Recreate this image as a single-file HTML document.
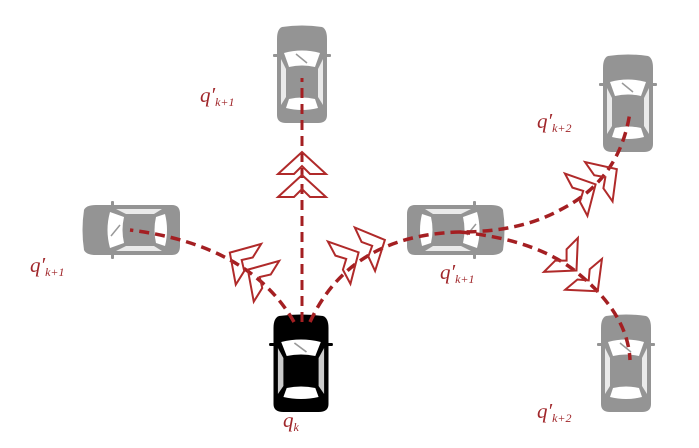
<!DOCTYPE html>
<html><head><meta charset="utf-8"><style>
html,body{margin:0;padding:0;background:#fff;}
svg{display:block;}
text{font-family:"Liberation Serif",serif;fill:#a0262a;font-style:italic;}
</style></head><body>
<svg width="699" height="448" viewBox="0 0 699 448" xmlns="http://www.w3.org/2000/svg">
<defs>
  <g id="car">
    <path d="M-20,-48 Q0,-51 20,-48 Q25,-46 25,-36 L25,40 Q25,48 16,48 L-16,48 Q-25,48 -25,40 L-25,-36 Q-25,-46 -20,-48 Z"/>
    <rect x="-29" y="-21" width="6" height="3" rx="1"/>
    <rect x="23" y="-21" width="6" height="3" rx="1"/>
    <path d="M-18,-22 Q0,-27 18,-22 L13,-8 Q0,-11 -13,-8 Z" fill="#fff"/>
    <path d="M-13,24 Q0,21 13,24 L16,33 Q0,37 -16,33 Z" fill="#fff"/>
    <path d="M-21,-16 L-16,-6 L-16,22 L-21,30 Z" fill="#fff" opacity="0.8"/>
    <path d="M21,-16 L16,-6 L16,22 L21,30 Z" fill="#fff" opacity="0.8"/>
    <line x1="-6" y1="-21" x2="5" y2="-12" stroke="#999" stroke-width="1.5"/>
  </g>
  <path id="chev" d="M0,-12 L24,10 L8,10 L0,2 L-8,10 L-24,10 Z" fill="none" stroke="#b02a2a" stroke-width="2"/>
</defs>

<g fill="#949494">
  <use href="#car" transform="translate(302,75)"/>
  <use href="#car" transform="translate(132,230) rotate(-90)"/>
  <use href="#car" transform="translate(455,230) rotate(90)"/>
  <use href="#car" transform="translate(628,104)"/>
  <use href="#car" transform="translate(626,364)"/>
</g>
<g fill="#000">
  <use href="#car" transform="translate(301,364) scale(1.1,1.0)"/>
</g>

<g fill="none" stroke="#a41f22" stroke-width="3.5" stroke-dasharray="10,6">
  <path d="M302,322 L302,78" stroke-width="3"/>
  <path d="M294,322 Q250,245 130,230"/>
  <path d="M310,322 Q350,235 460,232 Q520,232 560,210 Q620,180 630,112"/>
  <path d="M460,232 Q540,240 580,275 Q628,315 630,360"/>
</g>

<use href="#chev" transform="translate(302,164)"/>
<use href="#chev" transform="translate(302,187)"/>
<use href="#chev" transform="translate(240,259) rotate(-58)"/>
<use href="#chev" transform="translate(258,276) rotate(-58)"/>
<use href="#chev" transform="translate(348,258) rotate(62)"/>
<use href="#chev" transform="translate(374,245) rotate(65)"/>
<use href="#chev" transform="translate(585,190) rotate(62)"/>
<use href="#chev" transform="translate(607,176) rotate(55)"/>
<use href="#chev" transform="translate(568,262) rotate(135)"/>
<use href="#chev" transform="translate(590,282) rotate(140)"/>

<text x="200" y="102" font-size="21">q′<tspan font-size="12" dy="4">k+1</tspan></text>
<text x="30" y="272" font-size="21">q′<tspan font-size="12" dy="4">k+1</tspan></text>
<text x="440" y="279" font-size="21">q′<tspan font-size="12" dy="4">k+1</tspan></text>
<text x="537" y="128" font-size="21">q′<tspan font-size="12" dy="4">k+2</tspan></text>
<text x="537" y="418" font-size="21">q′<tspan font-size="12" dy="4">k+2</tspan></text>
<text x="283" y="427" font-size="21">q<tspan font-size="12" dy="4">k</tspan></text>
</svg>
</body></html>
